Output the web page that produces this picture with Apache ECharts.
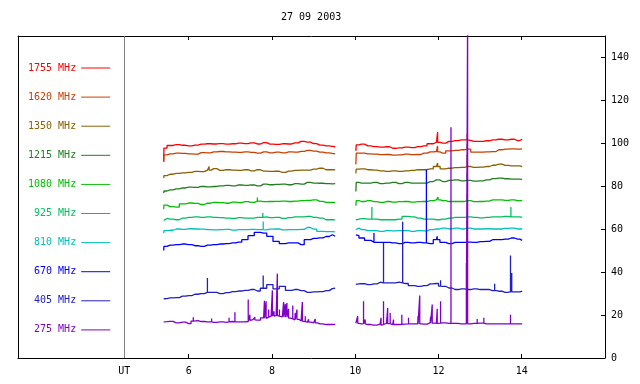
<!DOCTYPE html>
<html><head><meta charset="utf-8">
<script src="https://cdn.jsdelivr.net/npm/echarts@6/dist/echarts.min.js"></script>
<style>html,body{margin:0;padding:0;background:#fff}#c{width:640px;height:384px}</style>
</head><body><div id="c"></div>
<script>
const titleText = '27 09 2003';
const xTicks = [6, 8, 10, 12, 14];
const utPos = 4.45;
const utLabel = 'UT';
const yTicks = [0, 20, 40, 60, 80, 100, 120, 140];
const names = ['1755 MHz','1620 MHz','1350 MHz','1215 MHz','1080 MHz','925 MHz','810 MHz','670 MHz','405 MHz','275 MHz'];
const colors = ['#ff0000','#c84000','#8a6000','#208020','#00c000','#00c060','#00c0c0','#0000ff','#2020c0','#8000c8'];

const tA = [5.40,5.41,5.55,5.70,5.85,6.00,6.15,6.30,6.45,6.60,6.75,6.90,7.05,7.20,7.35,7.50,7.65,7.80,7.95,8.10,8.25,8.40,8.55,8.70,8.85,9.00,9.15,9.30,9.45,9.52];
const tB = [10.02,10.03,10.15,10.30,10.45,10.60,10.75,10.90,11.05,11.20,11.35,11.50,11.65,11.80,11.95,12.10,12.25,12.40,12.55,12.70,12.85,13.00,13.15,13.30,13.45,13.60,13.75,13.90,14.01];
const gapStart = 9.53;
const gapEnd = 10.01;

const f1755A = [91.4,97.8,99.0,99.4,99.1,98.8,99.2,99.6,99.8,99.7,99.9,99.6,99.8,100.1,99.9,100.2,99.7,100.3,99.6,99.5,99.8,99.7,100.2,100.9,100.6,99.9,99.2,98.8,98.6,98.4];
const f1755B = [96.5,99.3,99.6,98.8,98.5,98.2,98.4,97.7,97.9,98.2,98.0,98.5,98.8,99.8,100.4,100.1,100.9,101.3,101.6,101.4,100.9,100.9,101.2,101.6,101.9,101.6,101.9,101.3,101.9];
const f1755S = [[11.98,100.4,105.2],[12.69,101.6,104.4]];

const f1620A = [91.4,94.6,95.1,95.4,95.3,95.1,95.0,95.7,95.6,96.0,96.2,96.0,95.9,95.8,96.0,95.8,95.4,96.0,95.6,95.9,95.6,96.0,95.9,96.3,96.7,96.4,95.9,95.6,95.3,95.1];
const f1620B = [90.2,95.4,95.4,95.1,95.0,94.7,94.8,94.5,94.6,95.0,94.7,94.8,95.4,96.0,96.2,95.4,96.5,96.7,97.0,97.3,95.9,95.9,96.0,96.1,97.0,97.3,97.4,97.3,97.4];
const f1620S = [[11.98,96.0,98.8],[12.69,97.3,99.8]];

const f1350A = [83.8,85.0,85.6,86.0,86.2,86.5,86.9,86.8,87.5,88.2,87.4,87.7,87.5,87.4,87.7,87.2,87.7,87.1,86.9,87.0,86.5,87.1,87.4,87.5,87.5,88.0,88.4,87.7,87.7,87.6];
const f1350B = [86.0,88.0,88.1,87.7,87.5,87.2,86.9,87.2,86.9,87.2,87.4,87.7,87.7,88.1,89.2,88.1,88.4,88.7,88.8,89.2,88.8,88.9,89.2,89.8,90.3,89.7,89.5,89.5,89.2];
const f1350S = [[6.49,87.5,89.2],[11.98,89.2,90.8],[12.69,89.2,94.7]];

const f1215A = [76.8,77.8,78.3,78.8,79.2,79.6,79.5,79.9,79.7,79.9,80.2,80.4,80.2,80.6,80.4,80.6,80.2,81.0,80.7,80.9,81.0,80.7,81.2,81.0,81.8,81.5,81.4,81.2,81.1,81.2];
const f1215B = [77.6,81.8,81.5,81.5,81.8,81.2,81.5,81.8,81.2,81.8,81.5,81.5,81.5,82.2,83.0,82.2,82.7,83.0,82.5,82.7,82.4,82.5,83.0,83.6,83.8,83.5,83.3,83.3,83.2];
const f1215S = [[12.69,82.7,86.1]];

const f1080A = [69.4,71.2,70.5,70.3,71.8,72.2,72.0,71.5,72.1,72.5,72.4,72.1,72.6,72.4,72.8,72.5,73.1,72.8,72.9,73.0,73.1,72.9,73.1,73.3,73.4,73.7,73.0,72.5,72.5,72.4];
const f1080B = [70.9,73.3,72.9,73.3,72.8,72.5,72.9,72.6,72.8,72.9,72.6,72.8,72.9,73.3,73.7,73.3,72.9,72.9,72.9,73.3,72.8,72.9,73.1,73.7,73.7,73.4,73.7,73.3,73.4];
const f1080S = [[7.65,73.1,74.8],[11.99,73.7,75.0],[12.69,73.3,76.0]];

const f925A = [64.1,65.0,64.7,64.4,65.2,65.5,65.7,65.5,65.7,65.5,65.4,65.2,65.0,65.4,65.2,65.2,65.5,65.7,65.4,65.5,65.0,65.4,65.7,65.7,66.0,65.5,65.2,64.4,64.4,64.3];
const f925B = [64.3,64.7,64.9,64.7,64.7,64.4,64.4,64.4,64.7,66.0,65.7,65.2,64.7,64.7,64.4,64.7,65.2,65.5,65.5,65.7,65.5,65.3,65.5,65.7,65.7,66.0,65.7,65.7,65.5];
const f925S = [[7.78,65.5,67.5],[10.40,64.7,70.3],[13.74,65.7,70.3]];

const f810A = [58.2,59.3,59.5,60.1,59.9,60.2,60.1,60.0,59.8,59.7,59.8,59.9,59.6,59.8,59.8,59.9,59.8,59.7,60.0,60.1,59.7,59.8,59.8,59.9,60.8,60.0,59.0,58.9,58.9,58.8];
const f810B = [59.8,60.5,59.8,59.3,59.3,59.0,59.3,59.2,59.3,59.3,59.0,59.3,59.2,59.8,60.1,60.5,60.2,60.5,60.1,60.5,60.1,60.1,60.2,60.1,60.1,60.4,60.5,60.1,60.2];
const f810S = [[7.79,59.8,63.6]];

const f670A = [50.1,52.0,52.6,52.8,53.1,52.8,52.3,52.0,52.6,52.8,53.1,53.3,53.6,54.0,55.1,57.0,58.5,58.2,56.7,54.3,53.3,53.6,53.6,52.8,55.1,55.7,56.0,56.6,57.4,56.7];
const f670B = [57.4,57.0,55.9,54.8,53.9,53.9,53.9,53.6,53.3,53.9,53.6,53.9,53.6,53.3,55.1,53.9,53.3,53.9,53.9,54.0,53.9,54.2,54.3,55.1,55.1,55.4,55.9,55.4,54.8];
const f670S = [[10.45,53.9,58.2],[11.71,53.6,87.7],[11.97,55.1,56.7]];

const f405A = [27.6,27.7,28.0,28.1,28.8,29.1,29.7,30.0,30.6,30.6,30.0,30.5,30.9,31.2,31.5,31.9,31.2,32.5,34.2,32.2,33.4,31.5,31.9,31.4,30.6,30.8,30.9,31.4,32.3,32.6];
const f405B = [34.3,34.5,34.6,34.2,34.5,35.3,35.0,35.0,35.3,34.7,33.7,33.4,33.7,34.5,34.7,33.4,32.6,31.9,32.2,31.9,32.2,31.9,31.9,31.4,31.1,30.6,31.1,30.8,31.1];
const f405S = [[6.45,30.6,37.3],[7.79,32.5,38.4],[10.68,35.0,53.6],[11.14,35.0,63.5],[12.05,33.5,36.2],[13.35,31.4,34.6],[13.73,30.8,47.7],[13.76,30.8,39.6]];

const f275A = [16.8,16.9,17.1,16.4,16.7,16.0,17.4,17.0,16.8,16.6,16.8,16.6,17.0,16.8,16.8,17.9,17.6,18.7,19.5,19.7,19.2,18.6,17.8,17.2,16.7,16.4,15.9,15.6,15.6,15.7];
const f275B = [16.2,16.4,15.9,15.6,15.3,15.9,16.1,15.6,15.6,15.8,15.9,15.9,15.8,16.4,16.1,16.4,16.1,16.1,15.9,15.9,16.1,16.2,15.9,15.9,15.9,15.9,15.9,15.9,15.9];
const f275S = [[6.11,17.2,19.0],[6.55,16.8,18.4],[6.97,16.8,18.7],[7.11,16.8,21.3],[7.43,17.0,27.2],[7.47,17.5,20.2],[7.59,17.8,19.0],[7.82,18.5,26.7],[7.86,18.5,26.4],[7.92,19.0,22.6],[8.01,19.5,31.5],[8.05,19.5,21.8],[8.13,19.7,39.3],[8.18,19.5,22.6],[8.28,19.2,26.1],[8.32,19.0,25.2],[8.36,19.0,25.6],[8.40,18.6,22.9],[8.50,18.2,24.4],[8.56,18.0,21.0],[8.60,18.0,22.6],[8.73,17.2,26.1],[8.80,17.0,19.5],[8.88,16.7,18.0],[9.04,16.4,18.2],
  [10.06,16.2,19.5],[10.20,16.0,26.4],[10.24,15.9,17.9],[10.62,15.3,18.7],[10.68,15.6,26.4],[10.78,16.0,23.3],[10.84,16.0,21.0],[10.92,15.6,17.9],[11.12,15.7,20.2],[11.28,15.9,18.7],[11.51,15.9,19.5],[11.55,15.9,29.1],[11.81,16.2,19.2],[11.85,16.2,24.9],[11.97,16.1,22.9],[12.05,16.2,26.4],[12.30,16.1,107.5],[12.67,15.9,44.3],[12.70,15.9,160],[12.93,16.1,18.2],[13.09,16.2,18.7],[13.73,15.9,20.2]];

const seriesA = [f1755A,f1620A,f1350A,f1215A,f1080A,f925A,f810A,f670A,f405A,f275A];
const seriesB = [f1755B,f1620B,f1350B,f1215B,f1080B,f925B,f810B,f670B,f405B,f275B];
const seriesS = [f1755S,f1620S,f1350S,f1215S,f1080S,f925S,f810S,f670S,f405S,f275S];

function build(A, B, S) {
  const pts = tA.map((t, i) => [t, A[i]]).concat(tB.map((t, i) => [t, B[i]]));
  S.forEach(s => { pts.push([s[0], s[1]], [s[0], s[2]], [s[0], s[1]]); });
  pts.push([gapStart, null], [gapEnd, null]);
  pts.sort((p, q) => p[0] - q[0]);
  return pts;
}

const FONT = 'DejaVu Sans Mono';
const chart = echarts.init(document.getElementById('c'));
const series = names.map((n, i) => {
  const s = {
    name: n, type: 'line', data: build(seriesA[i], seriesB[i], seriesS[i]),
    showSymbol: false, symbol: 'none', color: colors[i], step: 'middle',
    lineStyle: { color: colors[i], width: 1.3 }, silent: true, animation: false, clip: true,
    xAxisIndex: 0, yAxisIndex: 0
  };
  if (i === 0) {
    s.markLine = { silent: true, symbol: 'none', animation: false, label: { show: false },
      lineStyle: { color: '#808080', type: 'solid', width: 1 }, data: [{ xAxis: utPos }] };
  }
  return s;
});

chart.setOption({
  animation: false,
  backgroundColor: '#fff',
  title: { text: titleText, left: 281, top: 12, padding: 0,
    textStyle: { fontFamily: FONT, fontSize: 10, fontWeight: 'normal', color: '#000' } },
  grid: { left: 18, right: 35, top: 36, bottom: 26 },
  legend: {
    orient: 'vertical', left: 28, top: 61, padding: 0, align: 'right',
    itemGap: 15.1, itemWidth: 29, itemHeight: 1, icon: 'rect', selectedMode: false,
    textStyle: { fontFamily: FONT, fontSize: 10, lineHeight: 14 },
    data: names.map((n, i) => ({ name: n, textStyle: { color: colors[i] } }))
  },
  xAxis: [
    { type: 'value', position: 'bottom', min: 1.9, max: 16,
      axisLine: { show: true, lineStyle: { color: '#000', width: 1 } },
      axisTick: { show: true, inside: true, length: 4, customValues: xTicks, lineStyle: { color: '#000' } },
      axisLabel: { show: true, customValues: [utPos].concat(xTicks), margin: 8, color: '#000', fontFamily: FONT, fontSize: 10,
        formatter: v => (Math.abs(v - utPos) < 1e-6 ? utLabel : String(v)) },
      splitLine: { show: false } },
    { type: 'value', position: 'top', min: 1.9, max: 16,
      axisLine: { show: true, onZero: false, lineStyle: { color: '#000', width: 1 } },
      axisTick: { show: true, inside: true, length: 4, customValues: xTicks, lineStyle: { color: '#000' } },
      axisLabel: { show: false }, splitLine: { show: false } }
  ],
  yAxis: [
    { type: 'value', position: 'right', min: 0, max: 150,
      axisLine: { show: true, onZero: false, lineStyle: { color: '#000', width: 1 } },
      axisTick: { show: true, inside: true, length: 4, customValues: yTicks, lineStyle: { color: '#000' } },
      axisLabel: { show: true, customValues: yTicks, margin: 6, color: '#000', fontFamily: FONT, fontSize: 10 },
      splitLine: { show: false } },
    { type: 'value', position: 'left', min: 0, max: 150,
      axisLine: { show: true, onZero: false, lineStyle: { color: '#000', width: 1 } },
      axisTick: { show: false }, axisLabel: { show: false }, splitLine: { show: false } }
  ],
  series: series
});
</script>
</body></html>
